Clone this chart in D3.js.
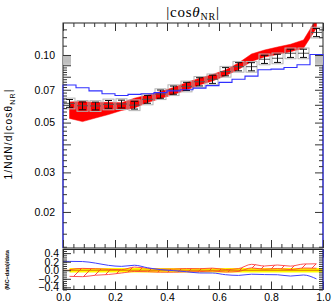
<!DOCTYPE html>
<html>
<head>
<meta charset="utf-8">
<script src="https://cdn.jsdelivr.net/npm/d3@7"></script>
<style>
  body { margin: 0; background: #fff; }
  svg text { font-family: "Liberation Sans", Arial, sans-serif; }
</style>
</head>
<body>
<div id="chart"></div>
<script>
// Bin centres of |cos theta_NR| (20 bins of 0.05)
var binCenters = [0.025, 0.075, 0.125, 0.175, 0.225, 0.275, 0.325, 0.375, 0.425, 0.475,
                  0.525, 0.575, 0.625, 0.675, 0.725, 0.775, 0.825, 0.875, 0.925, 0.975];
var binWidth = 0.05;

// Data points (black) and their errors (relative)
var dataVals = [0.0609, 0.0594, 0.0593, 0.0603, 0.0605, 0.0598, 0.0635, 0.0670, 0.0698, 0.0725,
                0.0760, 0.0780, 0.0843, 0.0887, 0.0887, 0.0957, 0.0967, 0.1018, 0.1018, 0.1260];
var statErr = [0.040, 0.040, 0.040, 0.040, 0.040, 0.040, 0.040, 0.042, 0.042, 0.042,
               0.042, 0.042, 0.042, 0.042, 0.042, 0.042, 0.042, 0.042, 0.042, 0.042];
var sysErr = [0.055, 0.055, 0.055, 0.055, 0.055, 0.055, 0.055, 0.055, 0.055, 0.055,
              0.055, 0.055, 0.055, 0.055, 0.055, 0.055, 0.055, 0.055, 0.055, 0.055];

// Blue MC histogram
var blueVals = [0.0735, 0.0715, 0.0692, 0.0672, 0.0660, 0.0668, 0.0672, 0.0680, 0.0692, 0.0700,
                0.0712, 0.0730, 0.0755, 0.0780, 0.0805, 0.0860, 0.0865, 0.0880, 0.0905, 0.1005];

// Red MC band (lower / upper edge)
var bandLow = [0.0522, 0.0505, 0.0524, 0.0543, 0.0566, 0.0581, 0.0614, 0.0640, 0.0667, 0.0698,
               0.0735, 0.0766, 0.0808, 0.0862, 0.0936, 0.0980, 0.1005, 0.1034, 0.1071, 0.1320];
var bandHigh = [0.0618, 0.0620, 0.0614, 0.0616, 0.0613, 0.0642, 0.0664, 0.0687, 0.0717, 0.0754,
                0.0787, 0.0819, 0.0858, 0.0921, 0.1010, 0.1052, 0.1085, 0.1116, 0.1166, 0.1450];

// Tick labels
var yTickLabels = [0.02, 0.03, 0.05, 0.07, 0.10];
var yMajorTicks = [0.02, 0.03, 0.04, 0.05, 0.06, 0.07, 0.08, 0.09, 0.10];
var xTickLabels = [0.0, 0.2, 0.4, 0.6, 0.8, 1.0];
var ratioTickLabels = [-0.4, -0.2, 0.0, 0.2, 0.4];

// Layout
var svgWidth = 332;
var svgHeight = 305;
var mainBox = { left: 63, right: 323, top: 23, bottom: 248 };
var ratioBox = { left: 63, right: 323, top: 249.5, bottom: 289.5 };

var svg = d3.select("#chart")
  .append("svg")
  .attr("width", svgWidth)
  .attr("height", svgHeight);

var x = d3.scaleLinear().domain([0, 1]).range([mainBox.left, mainBox.right]);
var y = d3.scaleLog().domain([0.01382, 0.1388]).range([mainBox.bottom, mainBox.top]);
var yr = d3.scaleLinear().domain([-0.45, 0.485]).range([ratioBox.bottom, ratioBox.top]);

// clip paths
var defs = svg.append("defs");
defs.append("clipPath").attr("id", "clipMain")
  .append("rect")
  .attr("x", mainBox.left).attr("y", mainBox.top)
  .attr("width", mainBox.right - mainBox.left)
  .attr("height", mainBox.bottom - mainBox.top);
defs.append("clipPath").attr("id", "clipRatio")
  .append("rect")
  .attr("x", ratioBox.left).attr("y", ratioBox.top)
  .attr("width", ratioBox.right - ratioBox.left)
  .attr("height", ratioBox.bottom - ratioBox.top);

// hatch pattern for the red ratio band
defs.append("pattern")
  .attr("id", "hatch")
  .attr("patternUnits", "userSpaceOnUse")
  .attr("width", 10).attr("height", 10)
  .append("path")
  .attr("d", "M0,10 L10,0 M-2,2 L2,-2 M8,12 L12,8")
  .attr("stroke", "#ff3030")
  .attr("stroke-width", 0.9);

var pts = binCenters.map(function(c, i) {
  return { c: c, v: dataVals[i], stat: statErr[i], sys: sysErr[i],
           blue: blueVals[i], lo: bandLow[i], hi: bandHigh[i] };
});

// ---------- main panel ----------
var mainG = svg.append("g").attr("clip-path", "url(#clipMain)");

// red band
var band = d3.area()
  .x(d => x(d.c))
  .y0(d => y(d.lo))
  .y1(d => y(d.hi));
mainG.append("path")
  .datum(pts)
  .attr("d", band)
  .attr("fill", "#ff0000")
  .attr("stroke", "#ff0000")
  .attr("stroke-width", 0.5);

// blue histogram, drawn down to the floor at both ends
var histPts = [[0, y.domain()[0]]];
pts.forEach(function(d) {
  histPts.push([d.c - binWidth / 2, d.blue]);
  histPts.push([d.c + binWidth / 2, d.blue]);
});
histPts.push([1, y.domain()[0]]);

// grey systematic boxes
mainG.selectAll("rect.sys")
  .data(pts)
  .enter()
  .append("rect")
  .attr("class", "sys")
  .attr("x", d => x(d.c - binWidth / 2) + 1)
  .attr("width", d => x(d.c + binWidth / 2) - x(d.c - binWidth / 2) - 2)
  .attr("y", d => y(d.v * (1 + d.sys)))
  .attr("height", d => y(d.v * (1 - d.sys)) - y(d.v * (1 + d.sys)))
  .attr("fill", "none")
  .attr("stroke", "#b4b4b4")
  .attr("stroke-width", 1);

// data points: horizontal bar, vertical error bar with caps
var pointG = mainG.selectAll("g.pt")
  .data(pts)
  .enter()
  .append("g")
  .attr("class", "pt")
  .attr("stroke", "#111")
  .attr("stroke-width", 1)
  .attr("fill", "none");
pointG.append("line")
  .attr("x1", d => x(d.c - binWidth / 2) + 1)
  .attr("x2", d => x(d.c + binWidth / 2) - 1)
  .attr("y1", d => y(d.v)).attr("y2", d => y(d.v))
  .attr("stroke", "#555");
pointG.append("line")
  .attr("x1", d => x(d.c)).attr("x2", d => x(d.c))
  .attr("y1", d => y(d.v * (1 + d.stat)))
  .attr("y2", d => y(d.v * (1 - d.stat)));
pointG.append("line")
  .attr("x1", d => x(d.c) - 3.5).attr("x2", d => x(d.c) + 3.5)
  .attr("y1", d => y(d.v * (1 + d.stat)))
  .attr("y2", d => y(d.v * (1 + d.stat)));
pointG.append("line")
  .attr("x1", d => x(d.c) - 3.5).attr("x2", d => x(d.c) + 3.5)
  .attr("y1", d => y(d.v * (1 - d.stat)))
  .attr("y2", d => y(d.v * (1 - d.stat)));

// main frame
svg.append("rect")
  .attr("x", mainBox.left).attr("y", mainBox.top)
  .attr("width", mainBox.right - mainBox.left)
  .attr("height", mainBox.bottom - mainBox.top)
  .attr("fill", "none")
  .attr("stroke", "#222")
  .attr("stroke-width", 1);

// blue histogram on top of the frame (its ends run down the side borders)
svg.append("path")
  .datum(histPts)
  .attr("d", d3.line().x(d => x(d[0])).y(d => y(d[1])))
  .attr("fill", "none")
  .attr("stroke", "#3030ff")
  .attr("stroke-width", 1.1);

function noDomain(g) { g.select(".domain").remove(); }

// minor y ticks (log axis)
var yMinorTicks = [];
for (var v = 14; v < 90; v += 2) {
  if (v % 10 !== 0) yMinorTicks.push(v / 1000);
}
yMinorTicks.push(0.11, 0.12, 0.13);
var yDenseTicks = [];
for (var w = 91; w < 100; w += 1) yDenseTicks.push(w / 1000);

function yTicks(values, size, color) {
  svg.append("g")
    .attr("transform", `translate(${mainBox.left},0)`)
    .call(d3.axisLeft(y).tickValues(values).tickSize(-size).tickFormat(""))
    .call(noDomain)
    .selectAll("line").attr("stroke", color);
  svg.append("g")
    .attr("transform", `translate(${mainBox.right},0)`)
    .call(d3.axisRight(y).tickValues(values).tickSize(-size).tickFormat(""))
    .call(noDomain)
    .selectAll("line").attr("stroke", color);
}
yTicks(yMinorTicks, 4, "#333");
yTicks(yDenseTicks, 8, "#bdbdbd");
yTicks(yMajorTicks, 8, "#333");

svg.append("g")
  .attr("transform", `translate(${mainBox.left},0)`)
  .call(d3.axisLeft(y).tickValues(yTickLabels).tickSize(0).tickPadding(8).tickFormat(d3.format(".2f")))
  .call(noDomain)
  .selectAll("text")
  .attr("font-size", 10.5)
  .attr("fill", "#000");

// x ticks pointing into each panel
var xMinor = d3.range(0, 26).map(i => i * 0.04).filter(t => t <= 1.0001);
function xTicks(yPos, inwardDown) {
  var mk = inwardDown ? d3.axisBottom : d3.axisTop;
  svg.append("g")
    .attr("transform", `translate(0,${yPos})`)
    .call(mk(x).tickValues(xMinor).tickSize(4).tickFormat(""))
    .call(noDomain)
    .selectAll("line").attr("stroke", "#333");
  svg.append("g")
    .attr("transform", `translate(0,${yPos})`)
    .call(mk(x).tickValues(xTickLabels).tickSize(8).tickFormat(""))
    .call(noDomain)
    .selectAll("line").attr("stroke", "#333");
}
xTicks(mainBox.top, true);
xTicks(mainBox.bottom, false);
xTicks(ratioBox.top, true);
xTicks(ratioBox.bottom, false);

// ---------- ratio panel ----------
var ratioG = svg.append("g").attr("clip-path", "url(#clipRatio)");

var ratioPts = pts.map(function(d) {
  return { c: d.c,
           err: d.stat + 0.01,
           lo: d.lo / d.v - 1, hi: d.hi / d.v - 1,
           blue: d.blue / d.v - 1 };
});
var lastR = ratioPts[ratioPts.length - 1];
var ratioExt = ratioPts.concat([{ c: 1.0, err: lastR.err, lo: lastR.lo, hi: lastR.hi, blue: lastR.blue }]);

// yellow data band
ratioG.append("path")
  .datum(ratioExt)
  .attr("d", d3.area().x(d => x(d.c)).y0(d => yr(-d.err)).y1(d => yr(d.err)).curve(d3.curveMonotoneX))
  .attr("fill", "#ffff00");

// red hatched band
ratioG.append("path")
  .datum(ratioPts)
  .attr("d", d3.area().x(d => x(d.c)).y0(d => yr(d.lo)).y1(d => yr(d.hi)).curve(d3.curveMonotoneX))
  .attr("fill", "url(#hatch)");
ratioG.append("path")
  .datum(ratioPts)
  .attr("d", d3.line().x(d => x(d.c)).y(d => yr(d.hi)).curve(d3.curveMonotoneX))
  .attr("fill", "none").attr("stroke", "#ff4040").attr("stroke-width", 0.9);
ratioG.append("path")
  .datum(ratioPts)
  .attr("d", d3.line().x(d => x(d.c)).y(d => yr(d.lo)).curve(d3.curveMonotoneX))
  .attr("fill", "none").attr("stroke", "#ff4040").attr("stroke-width", 0.9);

// zero line
ratioG.append("line")
  .attr("x1", x(0)).attr("x2", x(1))
  .attr("y1", yr(0)).attr("y2", yr(0))
  .attr("stroke", "#e07000")
  .attr("stroke-width", 1);

// blue ratio
var blueRatio = [{ c: 0, blue: ratioPts[0].blue }].concat(ratioPts);
ratioG.append("path")
  .datum(blueRatio)
  .attr("d", d3.line().x(d => x(d.c)).y(d => yr(d.blue)).curve(d3.curveMonotoneX))
  .attr("fill", "none")
  .attr("stroke", "#4040ff")
  .attr("stroke-width", 1);

// ratio frame
svg.append("rect")
  .attr("x", ratioBox.left).attr("y", ratioBox.top)
  .attr("width", ratioBox.right - ratioBox.left)
  .attr("height", ratioBox.bottom - ratioBox.top)
  .attr("fill", "none")
  .attr("stroke", "#222")
  .attr("stroke-width", 1);
svg.append("line")
  .attr("x1", ratioBox.right).attr("x2", ratioBox.right)
  .attr("y1", ratioBox.top).attr("y2", ratioBox.bottom)
  .attr("stroke", "#3030ff").attr("stroke-width", 1.1);

// ratio y ticks
var ratioMinor = d3.range(-9, 10).map(i => i * 0.05);
svg.append("g")
  .attr("transform", `translate(${ratioBox.left},0)`)
  .call(d3.axisLeft(yr).tickValues(ratioMinor).tickSize(-4).tickFormat(""))
  .call(noDomain)
  .selectAll("line").attr("stroke", "#333");
svg.append("g")
  .attr("transform", `translate(${ratioBox.right},0)`)
  .call(d3.axisRight(yr).tickValues(ratioMinor).tickSize(-4).tickFormat(""))
  .call(noDomain)
  .selectAll("line").attr("stroke", "#333");
var ratioAxis = svg.append("g")
  .attr("transform", `translate(${ratioBox.left},0)`)
  .call(d3.axisLeft(yr).tickValues(ratioTickLabels).tickSize(-8).tickPadding(4).tickFormat(d3.format(".1f")))
  .call(noDomain);
ratioAxis.selectAll("line").attr("stroke", "#333");
ratioAxis.selectAll("text")
  .attr("font-size", 10.5)
  .attr("fill", "#000");

// x labels under ratio panel
svg.append("g")
  .attr("transform", `translate(0,${ratioBox.bottom})`)
  .call(d3.axisBottom(x).tickValues(xTickLabels).tickSize(0).tickPadding(4).tickFormat(d3.format(".1f")))
  .call(noDomain)
  .selectAll("text")
  .attr("font-size", 10.5)
  .attr("fill", "#000");

// ---------- titles ----------
var title = svg.append("text")
  .attr("x", 193)
  .attr("y", 17)
  .attr("text-anchor", "middle")
  .style("font-family", "'Liberation Serif', 'DejaVu Serif', serif")
  .attr("font-size", 15)
  .attr("letter-spacing", 0.8);
title.append("tspan").text("|cos");
title.append("tspan").attr("font-style", "italic").text("θ");
title.append("tspan").attr("font-size", 10).attr("dy", 3).text("NR");
title.append("tspan").attr("dy", -3).text("|");

var yLabel = svg.append("text")
  .attr("transform", "translate(12,134) rotate(-90)")
  .attr("text-anchor", "middle")
  .attr("font-size", 10)
  .attr("letter-spacing", 1.2);
yLabel.append("tspan").text("1/NdN/d|cos");
yLabel.append("tspan").text("θ");
yLabel.append("tspan").attr("font-size", 7).attr("dy", 2.5).text("NR");
yLabel.append("tspan").attr("dy", -2.5).text("|");

svg.append("text")
  .attr("transform", "translate(9,270) rotate(-90)")
  .attr("text-anchor", "middle")
  .attr("font-size", 5.5)
  .attr("font-weight", "bold")
  .text("(MC\u2212data)/data");
</script>
</body>
</html>
